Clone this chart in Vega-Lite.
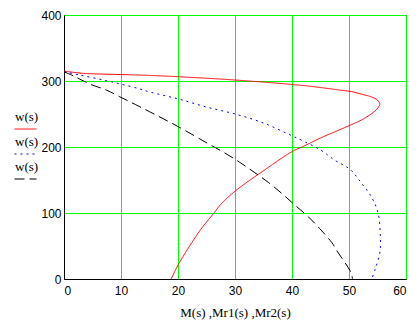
{
  "$schema": "https://vega.github.io/schema/vega-lite/v6.json",
  "width": 342,
  "height": 264,
  "autosize": {"type": "none"},
  "padding": {"left": 64, "top": 15, "right": 14, "bottom": 46},
  "background": "white",
  "config": {
    "view": {"stroke": "black", "strokeWidth": 1},
    "axis": {
      "grid": true,
      "gridColor": "#00ff00",
      "gridOpacity": 1,
      "gridWidth": 1,
      "domainColor": "black",
      "ticks": false,
      "labelFont": "Liberation Sans",
      "labelFontSize": 12,
      "labelColor": "black",
      "titleFont": "Liberation Serif",
      "titleFontSize": 13,
      "titleFontWeight": "normal",
      "titleColor": "black"
    },
    "legend": {
      "orient": "none",
      "legendX": -50,
      "legendY": 97,
      "padding": 0,
      "symbolType": "M-1,0.5H1",
      "symbolSize": 484,
      "symbolStrokeWidth": 1,
      "symbolFillColor": "transparent",
      "labelOffset": -22,
      "labelBaseline": "bottom",
      "labelFont": "Liberation Serif",
      "labelFontSize": 13,
      "labelColor": "black",
      "rowPadding": 4
    }
  },
  "data": {
    "values": [
      {"series": "M", "i": 0, "x": 0, "w": 315},
      {"series": "M", "i": 1, "x": 3.4, "w": 311.6},
      {"series": "M", "i": 2, "x": 8.9, "w": 310},
      {"series": "M", "i": 3, "x": 13.3, "w": 309},
      {"series": "M", "i": 4, "x": 20, "w": 306.5},
      {"series": "M", "i": 5, "x": 30, "w": 301.5},
      {"series": "M", "i": 6, "x": 41.6, "w": 293.5},
      {"series": "M", "i": 7, "x": 45.1, "w": 290},
      {"series": "M", "i": 8, "x": 48.6, "w": 286},
      {"series": "M", "i": 9, "x": 50.4, "w": 284},
      {"series": "M", "i": 10, "x": 52.2, "w": 280},
      {"series": "M", "i": 11, "x": 53.9, "w": 276},
      {"series": "M", "i": 12, "x": 55.0, "w": 271},
      {"series": "M", "i": 13, "x": 55.4, "w": 265},
      {"series": "M", "i": 14, "x": 55.0, "w": 258.5},
      {"series": "M", "i": 15, "x": 53.9, "w": 250},
      {"series": "M", "i": 16, "x": 52.2, "w": 241},
      {"series": "M", "i": 17, "x": 50.2, "w": 233},
      {"series": "M", "i": 18, "x": 48.6, "w": 227},
      {"series": "M", "i": 19, "x": 45.1, "w": 214},
      {"series": "M", "i": 20, "x": 42.0, "w": 201},
      {"series": "M", "i": 21, "x": 40, "w": 193},
      {"series": "M", "i": 22, "x": 35, "w": 164},
      {"series": "M", "i": 23, "x": 30, "w": 133},
      {"series": "M", "i": 24, "x": 27.5, "w": 113},
      {"series": "M", "i": 25, "x": 26.4, "w": 101},
      {"series": "M", "i": 26, "x": 23.9, "w": 74},
      {"series": "M", "i": 27, "x": 21.6, "w": 44},
      {"series": "M", "i": 28, "x": 20, "w": 21},
      {"series": "M", "i": 29, "x": 18.8, "w": 0},
      {"series": "Mr1", "i": 0, "x": 0, "w": 314},
      {"series": "Mr1", "i": 1, "x": 2.8, "w": 309},
      {"series": "Mr1", "i": 2, "x": 6.9, "w": 301.5},
      {"series": "Mr1", "i": 3, "x": 9.9, "w": 295.5},
      {"series": "Mr1", "i": 4, "x": 13.3, "w": 288},
      {"series": "Mr1", "i": 5, "x": 15.2, "w": 283},
      {"series": "Mr1", "i": 6, "x": 20, "w": 273},
      {"series": "Mr1", "i": 7, "x": 24.8, "w": 261},
      {"series": "Mr1", "i": 8, "x": 30, "w": 250},
      {"series": "Mr1", "i": 9, "x": 35.1, "w": 236},
      {"series": "Mr1", "i": 10, "x": 40, "w": 217},
      {"series": "Mr1", "i": 11, "x": 41.6, "w": 210.6},
      {"series": "Mr1", "i": 12, "x": 45.1, "w": 195},
      {"series": "Mr1", "i": 13, "x": 47.5, "w": 180},
      {"series": "Mr1", "i": 14, "x": 50.2, "w": 166},
      {"series": "Mr1", "i": 15, "x": 52.2, "w": 145},
      {"series": "Mr1", "i": 16, "x": 53.9, "w": 125},
      {"series": "Mr1", "i": 17, "x": 55.1, "w": 100},
      {"series": "Mr1", "i": 18, "x": 55.5, "w": 64},
      {"series": "Mr1", "i": 19, "x": 55.4, "w": 39},
      {"series": "Mr1", "i": 20, "x": 54.6, "w": 15},
      {"series": "Mr1", "i": 21, "x": 54.0, "w": 0},
      {"series": "Mr2", "i": 0, "x": 0, "w": 314},
      {"series": "Mr2", "i": 1, "x": 1.6, "w": 308},
      {"series": "Mr2", "i": 2, "x": 4.5, "w": 295.5},
      {"series": "Mr2", "i": 3, "x": 7.5, "w": 286},
      {"series": "Mr2", "i": 4, "x": 9.8, "w": 276},
      {"series": "Mr2", "i": 5, "x": 13.3, "w": 261},
      {"series": "Mr2", "i": 6, "x": 20, "w": 231},
      {"series": "Mr2", "i": 7, "x": 25.3, "w": 205},
      {"series": "Mr2", "i": 8, "x": 28.2, "w": 191},
      {"series": "Mr2", "i": 9, "x": 30.8, "w": 177},
      {"series": "Mr2", "i": 10, "x": 33.5, "w": 161},
      {"series": "Mr2", "i": 11, "x": 35.9, "w": 146},
      {"series": "Mr2", "i": 12, "x": 38.3, "w": 129},
      {"series": "Mr2", "i": 13, "x": 40.5, "w": 112},
      {"series": "Mr2", "i": 14, "x": 42.9, "w": 94},
      {"series": "Mr2", "i": 15, "x": 44.9, "w": 76},
      {"series": "Mr2", "i": 16, "x": 47, "w": 55},
      {"series": "Mr2", "i": 17, "x": 48, "w": 41},
      {"series": "Mr2", "i": 18, "x": 49.2, "w": 26},
      {"series": "Mr2", "i": 19, "x": 50.4, "w": 9},
      {"series": "Mr2", "i": 20, "x": 50.6, "w": 0}
    ]
  },
  "mark": {"type": "line", "strokeWidth": 1, "clip": true, "interpolate": "catmull-rom"},
  "encoding": {
    "x": {
      "field": "x",
      "type": "quantitative",
      "scale": {"domain": [0, 60], "nice": false, "zero": false},
      "axis": {"values": [0, 10, 20, 30, 40, 50, 60], "labelPadding": 6, "title": "M(s) ,Mr1(s) ,Mr2(s)", "titlePadding": 10}
    },
    "y": {
      "field": "w",
      "type": "quantitative",
      "scale": {"domain": [0, 400], "nice": false},
      "axis": {"values": [0, 100, 200, 300, 400], "labelPadding": 3, "title": null}
    },
    "order": {"field": "i", "type": "quantitative"},
    "color": {
      "field": "series",
      "type": "nominal",
      "scale": {"domain": ["M", "Mr1", "Mr2"], "range": ["#ff0000", "#0000ff", "#000000"]},
      "legend": {"title": null, "labelExpr": "'w(s)'"}
    },
    "strokeDash": {
      "field": "series",
      "type": "nominal",
      "scale": {"domain": ["M", "Mr1", "Mr2"], "range": [[1, 0], [2, 4], [10, 5]]},
      "legend": {"title": null, "labelExpr": "'w(s)'"}
    }
  }
}
